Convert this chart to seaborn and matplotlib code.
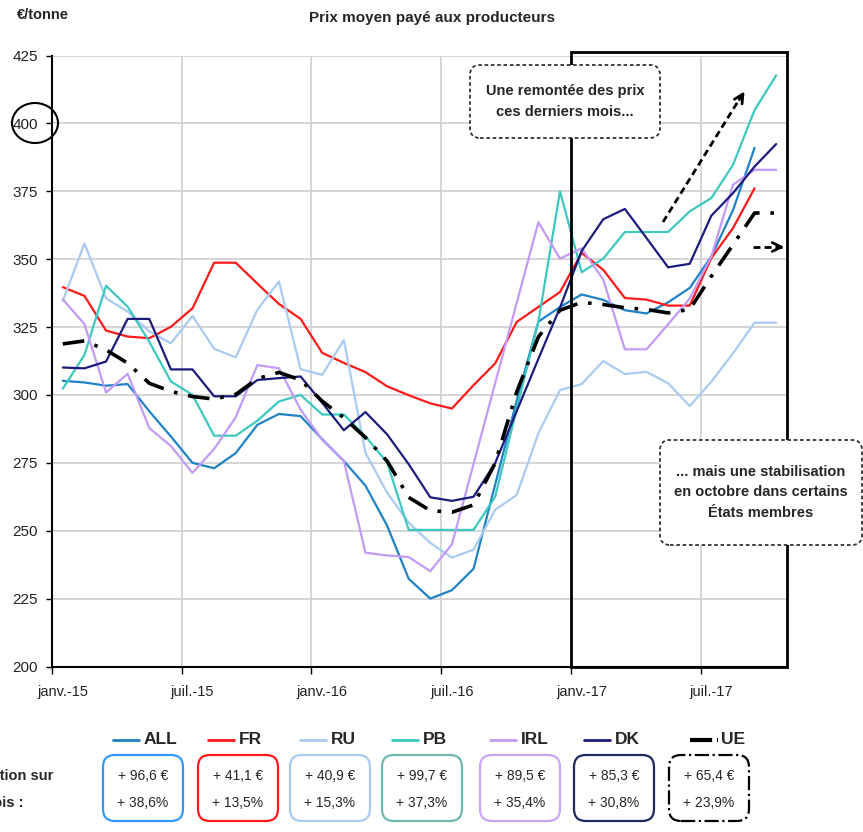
import numpy as np
import pandas as pd
import seaborn as sns
import matplotlib.pyplot as plt
from matplotlib.patches import Ellipse, FancyBboxPatch, Rectangle
from matplotlib.lines import Line2D

nan = np.nan
mois = np.arange(34)  # janv.-15 .. oct.-17
tick_labels = ['janv.-15', 'juil.-15', 'janv.-16', 'juil.-16', 'janv.-17', 'juil.-17']

all_ = [305.2, 304.6, 303.4, 304.0, 294.0, 284.7, 275.0, 273.0, 278.6, 289.0, 293.0, 292.2,
        283.7, 275.7, 266.6, 251.9, 232.3, 225.0, 228.1, 236.0, 267.0, 298.0, 327.0, 332.4,
        337.0, 335.0, 331.2, 330.0, 334.1, 339.4, 351.0, 368.0, 391.0, nan]
fr = [339.7, 336.5, 323.7, 321.5, 320.9, 325.1, 331.9, 348.7, 348.7, 341.0, 333.5, 328.0,
      315.5, 311.8, 308.4, 303.2, 299.9, 296.9, 295.0, 303.6, 311.6, 326.9, 332.4, 337.9,
      352.3, 346.1, 335.7, 335.1, 332.9, 332.9, 350.4, 361.4, 376.1, nan]
ru = [334.6, 355.8, 335.6, 330.7, 323.4, 319.0, 329.1, 317.0, 313.8, 331.4, 341.8, 309.5,
      307.4, 320.2, 278.7, 264.0, 253.0, 245.5, 240.1, 243.0, 257.7, 263.2, 285.9, 301.8,
      304.0, 312.5, 307.7, 308.5, 304.3, 295.9, 304.9, 315.3, 326.6, 326.6]
pb = [302.3, 314.7, 340.2, 332.5, 319.6, 305.0, 300.0, 285.0, 285.0, 290.5, 297.6, 300.0,
      292.8, 292.8, 284.8, 275.1, 250.3, 250.3, 250.3, 250.3, 262.5, 295.0, 327.0, 375.0,
      345.2, 350.2, 360.0, 360.0, 360.0, 367.6, 372.5, 384.7, 404.9, 417.7]
irl = [335.2, 326.1, 300.9, 307.8, 287.8, 281.2, 271.3, 280.1, 291.8, 311.0, 309.8, 294.6,
       283.5, 275.7, 241.9, 240.9, 240.3, 235.1, 245.0, 274.6, 304.3, 334.0, 363.6, 350.2,
       354.0, 342.5, 316.8, 316.8, 326.0, 335.5, 351.0, 377.4, 382.9, 382.9]
dk = [310.1, 309.8, 312.3, 328.0, 328.0, 309.4, 309.4, 299.5, 299.5, 305.5, 306.2, 306.8,
      297.1, 287.0, 293.7, 285.5, 274.5, 262.3, 261.0, 262.5, 274.9, 294.1, 313.3, 332.2,
      353.0, 364.7, 368.5, 357.8, 347.0, 348.3, 366.0, 374.3, 384.1, 392.4]
ue = [318.8, 319.9, 316.6, 311.7, 304.3, 301.3, 299.4, 298.5, 300.2, 306.0, 308.3, 305.5,
      297.7, 291.6, 284.3, 275.7, 262.3, 257.4, 256.8, 259.5, 274.9, 301.2, 321.4, 331.2,
      334.1, 333.3, 332.1, 331.5, 330.2, 331.5, 343.7, 355.3, 367.0, 367.0]

noms = ['ALL', 'FR', 'RU', 'PB', 'IRL', 'DK', 'UE']
series = [all_, fr, ru, pb, irl, dk, ue]
couleurs = ['#1f82c4', '#ff1a1a', '#a9cbf0', '#3cc8c0', '#c39af5', '#1c1c7c', '#000000']
bordures = ['#3399ff', '#ff1a1a', '#a9cbf0', '#6fb8b0', '#c8a6f8', '#1f2a5e', '#000000']
evol_eur = ['96,6', '41,1', '40,9', '99,7', '89,5', '85,3', '65,4']
evol_pct = ['38,6', '13,5', '15,3', '37,3', '35,4', '30,8', '23,9']

sns.set_style('whitegrid')
plt.rcParams['font.family'] = ['Liberation Sans Narrow', 'Liberation Sans', 'DejaVu Sans']

W, H = 863, 832
fig = plt.figure(figsize=(W / 100, H / 100), dpi=100)
ax = fig.add_axes([52 / W, 1 - 666.5 / H, 735 / W, 611 / H])
tr = fig.dpi_scale_trans


def px(x, y):
    return (x / 100, (H - y) / 100)


for nom, vals, c in zip(noms, series, couleurs):
    if nom == 'UE':
        sns.lineplot(x=mois, y=vals, ax=ax, color=c, lw=2.6, linestyle=(0, (6, 3, 1, 3)))
    else:
        sns.lineplot(x=mois, y=vals, ax=ax, color=c, lw=1.6)

ax.set_xlim(-0.5, 33.5)
ax.set_ylim(200, 425)
ax.set_yticks(range(200, 426, 25))
ax.set_xticks(np.arange(-0.5, 30, 6))
ax.set_xticklabels([''] * 6)
ax.set_xticks(np.arange(0, 31, 6), minor=True)
ax.set_xticklabels(tick_labels, minor=True)
ax.tick_params(axis='x', which='major', length=5, width=1, color='black', bottom=True)
ax.tick_params(axis='x', which='minor', length=0, pad=13, labelsize=10.5, labelcolor='#222222')
ax.tick_params(axis='y', length=4, width=1, color='black', left=True, pad=6, labelsize=11,
               labelcolor='#222222')
ax.grid(which='major', color='#d2d2d2', lw=1.3)
ax.grid(which='minor', visible=False)
for s in ['top', 'right']:
    ax.spines[s].set_visible(False)
for s in ['left', 'bottom']:
    ax.spines[s].set_color('black')
    ax.spines[s].set_linewidth(1.5)
ax.set_xlabel('')
ax.set_ylabel('')

# cadre sur 2017
ax.add_patch(Rectangle((23.5, 200), 10, 226.3, fill=False, ec='black', lw=2, clip_on=False, zorder=5))

fig.text(432 / W, 1 - 18 / H, 'Prix moyen payé aux producteurs', ha='center', va='center',
         fontsize=11, fontweight='bold')
fig.text(17 / W, 1 - 15 / H, '€/tonne', ha='left', va='center', fontsize=10.5, fontweight='bold')
fig.patches.append(Ellipse(px(35, 123), 0.46, 0.40, fill=False, ec='black', lw=1.5, transform=tr))

# encadrés de commentaire
for (x0, y0, x1, y1), txt in [((470, 65, 660, 138), 'Une remontée des prix\nces derniers mois...'),
                              ((660, 440, 862, 545), '... mais une stabilisation\nen octobre dans certains\nÉtats membres')]:
    fig.patches.append(FancyBboxPatch(px(x0, y1), (x1 - x0) / 100, (y1 - y0) / 100,
                                      boxstyle='round,pad=0,rounding_size=0.1', fc='white',
                                      ec='#333333', lw=1.3, ls=(0, (2, 1.5)), transform=tr, zorder=6))
    fig.text(*px((x0 + x1) / 2, (y0 + y1) / 2), txt, transform=tr, ha='center', va='center',
             fontsize=10.5, fontweight='bold', linespacing=1.55, zorder=7)

# flèches
for (xa, ya, xb, yb) in [(663, 222, 742, 95), (753, 247, 782, 247)]:
    fig.lines.append(Line2D([xa / 100, xb / 100], [(H - ya) / 100, (H - yb) / 100], color='black',
                            lw=2, ls=(0, (2.5, 1.5)), transform=tr))
ax.annotate('', xy=px(746, 89), xytext=px(738, 102), xycoords=tr, textcoords=tr,
            arrowprops=dict(arrowstyle='->', lw=2, color='black', mutation_scale=16))
ax.annotate('', xy=px(787, 247), xytext=px(774, 247), xycoords=tr, textcoords=tr,
            arrowprops=dict(arrowstyle='->', lw=2, color='black', mutation_scale=16))

# légende et encadrés d'évolution
centres = [143, 238, 330, 422, 520, 614, 709]
for nom, c, b, e, p, cx in zip(noms, couleurs, bordures, evol_eur, evol_pct, centres):
    if nom == 'UE':
        fig.lines.append(Line2D([(cx - 19) / 100, (cx + 9) / 100], [(H - 740) / 100] * 2, color=c,
                                lw=3, ls=(0, (5.3, 1.2, 0.4, 20)), transform=tr))
        fig.text(*px(cx + 12, 740), nom, transform=tr, ha='left', va='center', fontsize=12.5,
                 fontweight='bold')
    else:
        fig.lines.append(Line2D([(cx - 30) / 100, (cx - 4) / 100], [(H - 740) / 100] * 2, color=c,
                                lw=2, transform=tr))
        fig.text(*px(cx + 1, 740), nom, transform=tr, ha='left', va='center', fontsize=12.5,
                 fontweight='bold')
    fig.patches.append(FancyBboxPatch(px(cx - 40, 821), 0.80, 0.66,
                                      boxstyle='round,pad=0,rounding_size=0.12', fc='white', ec=b,
                                      lw=1.6, ls='-.' if nom == 'UE' else '-', transform=tr))
    fig.text(*px(cx, 776), f'+ {e} €', transform=tr, ha='center', va='center', fontsize=10)
    fig.text(*px(cx, 803), f'+ {p}%', transform=tr, ha='center', va='center', fontsize=10)

fig.text(-40 / W, 1 - 776 / H, 'Évolution sur', ha='left', va='center', fontsize=10.5, fontweight='bold')
fig.text(-40 / W, 1 - 803 / H, '12 mois :', ha='left', va='center', fontsize=10.5, fontweight='bold')

fig.savefig('out.png', dpi=100)
